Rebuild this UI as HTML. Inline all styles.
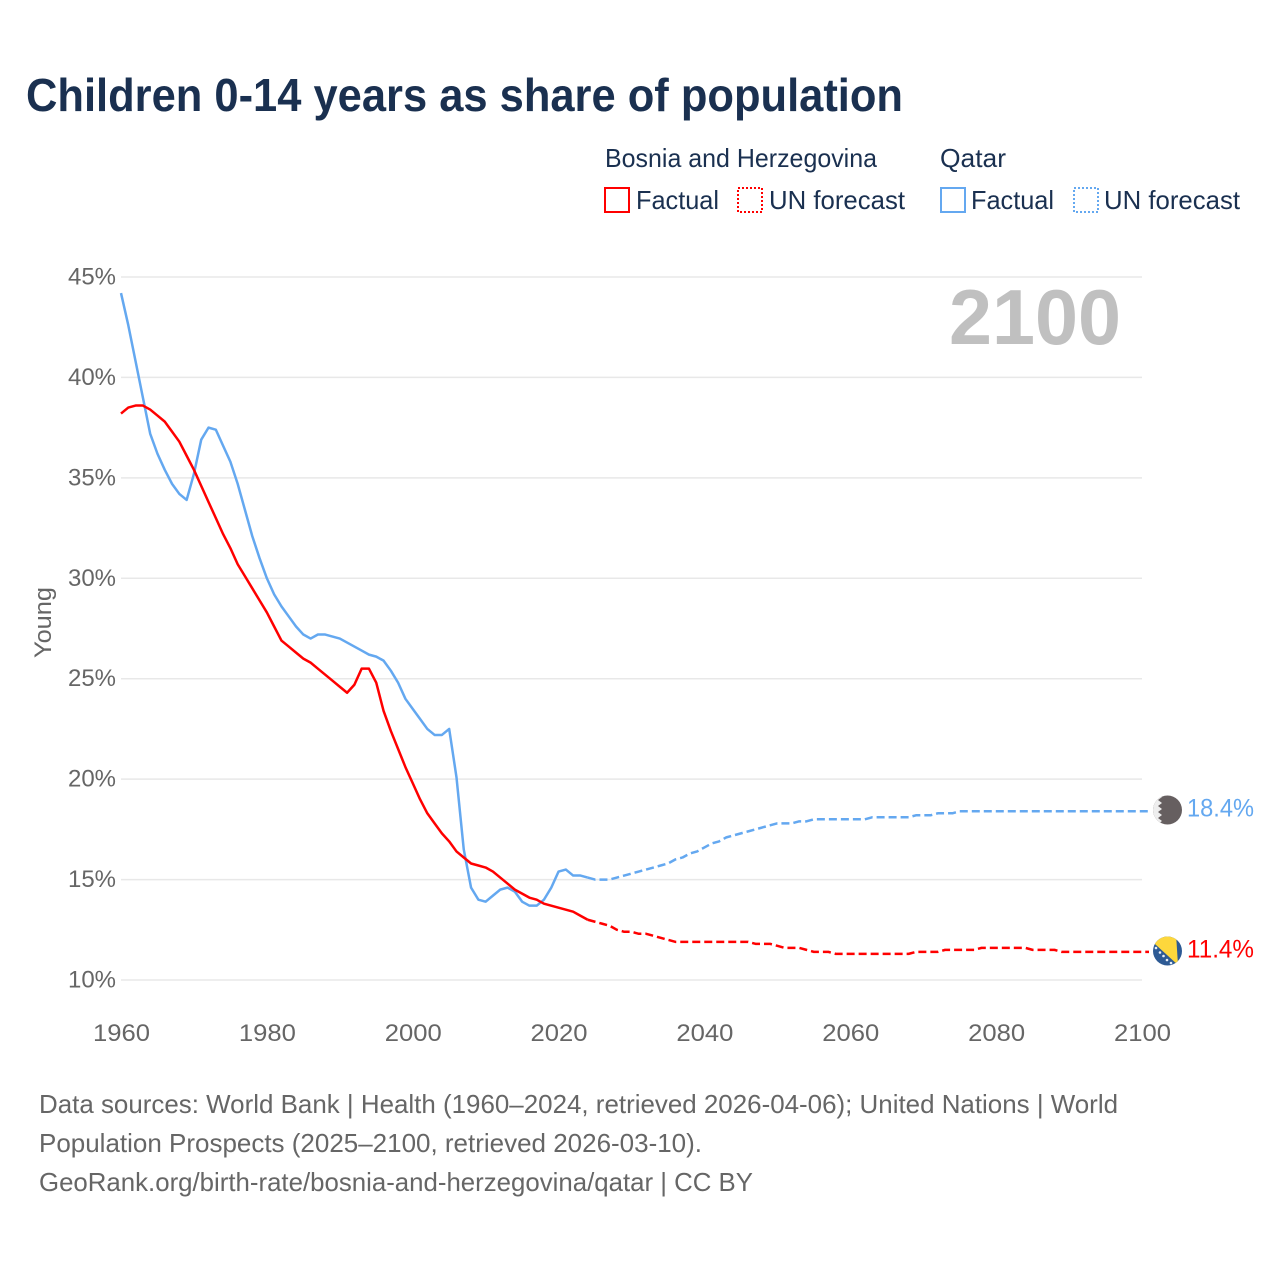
<!DOCTYPE html>
<html lang="en">
<head>
<meta charset="utf-8">
<title>Children 0-14 years as share of population</title>
<style>
html,body{margin:0;padding:0;background:#fff;}
svg{display:block;font-family:"Liberation Sans",sans-serif;}
</style>
</head>
<body>
<svg id="chart" xmlns="http://www.w3.org/2000/svg" width="1280" height="1280" viewBox="0 0 1280 1280">
  <rect x="0" y="0" width="1280" height="1280" fill="#ffffff"/>
  <text x="26" y="111" font-size="46" font-weight="700" fill="#1a3050" textLength="877" lengthAdjust="spacingAndGlyphs">Children 0-14 years as share of population</text>

  <g font-size="26" fill="#1a3050">
    <text x="605" y="167" textLength="272" lengthAdjust="spacingAndGlyphs">Bosnia and Herzegovina</text>
    <text x="940" y="167" textLength="66" lengthAdjust="spacingAndGlyphs">Qatar</text>
    <rect x="605" y="188" width="24" height="24" fill="none" stroke="#ff0000" stroke-width="2"/>
    <text x="636" y="209" textLength="83" lengthAdjust="spacingAndGlyphs">Factual</text>
    <rect x="738" y="188" width="24" height="24" fill="none" stroke="#ff0000" stroke-width="2" stroke-dasharray="2 2"/>
    <text x="769" y="209" textLength="136" lengthAdjust="spacingAndGlyphs">UN forecast</text>
    <rect x="941" y="188" width="24" height="24" fill="none" stroke="#64a8f0" stroke-width="2"/>
    <text x="971" y="209" textLength="83" lengthAdjust="spacingAndGlyphs">Factual</text>
    <rect x="1074" y="188" width="24" height="24" fill="none" stroke="#64a8f0" stroke-width="2" stroke-dasharray="2 2"/>
    <text x="1104" y="209" textLength="136" lengthAdjust="spacingAndGlyphs">UN forecast</text>
  </g>

  <g id="grid"></g>
  <g id="yticks"></g>
  <g id="xticks"></g>

  <text x="949" y="344" font-size="78" font-weight="700" fill="#c0c0c0" textLength="172" lengthAdjust="spacingAndGlyphs">2100</text>
  <text transform="translate(51,658) rotate(-90)" font-size="24" fill="#666666" textLength="71" lengthAdjust="spacingAndGlyphs">Young</text>

  <g id="series"></g>

  <defs>
    <clipPath id="flagClipQ"><circle cx="1167.5" cy="810" r="14.5"/></clipPath>
    <clipPath id="flagClipB"><circle cx="1167.5" cy="951" r="14.5"/></clipPath>
  </defs>
  <g id="flag-qatar" clip-path="url(#flagClipQ)">
    <rect x="1150" y="793" width="36" height="34" fill="#665f60"/>
    <polygon fill="#eeeeee" points="1150,793 1158,795.5 1162,797 1158,800 1162,803 1158,806 1162,809 1158,812 1162,815 1158,818 1162,821 1158,824 1150,827"/>
  </g>
  <g id="flag-bosnia" clip-path="url(#flagClipB)">
    <rect x="1150" y="934" width="36" height="34" fill="#2d5a94"/>
    <polygon fill="#fdd73c" points="1150,939.5 1178,965 1176,934 1150,934"/>
    <g fill="#e8eef6">
      <circle cx="1156" cy="948" r="1.3"/><circle cx="1160" cy="952.5" r="1.3"/><circle cx="1163.5" cy="956" r="1.3"/><circle cx="1167" cy="960" r="1.3"/><circle cx="1171" cy="963" r="1.3"/>
    </g>
  </g>
  <text id="value-qatar" x="1187" y="816.5" font-size="25" fill="#64a8f0" textLength="67" lengthAdjust="spacingAndGlyphs">18.4%</text>
  <text id="value-bosnia" x="1187" y="957.5" font-size="25" fill="#ff0000" textLength="67" lengthAdjust="spacingAndGlyphs">11.4%</text>

  <g font-size="26" fill="#666666">
    <text x="39" y="1113" textLength="1079" lengthAdjust="spacingAndGlyphs">Data sources: World Bank | Health (1960–2024, retrieved 2026-04-06); United Nations | World</text>
    <text x="39" y="1152" textLength="663" lengthAdjust="spacingAndGlyphs">Population Prospects (2025–2100, retrieved 2026-03-10).</text>
    <text x="39" y="1191" textLength="714" lengthAdjust="spacingAndGlyphs">GeoRank.org/birth-rate/bosnia-and-herzegovina/qatar | CC BY</text>
  </g>
</svg>

<script>
const startYear = 1960;
const lastFactualYear = 2024;
const yTickValues = [10, 15, 20, 25, 30, 35, 40, 45];
const xTickYears = [1960, 1980, 2000, 2020, 2040, 2060, 2080, 2100];

const bosniaValues = [
38.2,38.5,38.6,38.6,38.4,38.1,37.8,37.3,36.8,36.1,
35.4,34.6,33.8,33.0,32.2,31.5,30.7,30.1,29.5,28.9,
28.3,27.6,26.9,26.6,26.3,26.0,25.8,25.5,25.2,24.9,
24.6,24.3,24.7,25.5,25.5,24.8,23.4,22.4,21.5,20.6,
19.8,19.0,18.3,17.8,17.3,16.9,16.4,16.1,15.8,15.7,
15.6,15.4,15.1,14.8,14.5,14.3,14.1,14.0,13.8,13.7,
13.6,13.5,13.4,13.2,13.0,12.9,12.8,12.7,12.5,12.4,
12.4,12.3,12.3,12.2,12.1,12.0,11.9,11.9,11.9,11.9,
11.9,11.9,11.9,11.9,11.9,11.9,11.9,11.8,11.8,11.8,
11.7,11.6,11.6,11.6,11.5,11.4,11.4,11.4,11.3,11.3,
11.3,11.3,11.3,11.3,11.3,11.3,11.3,11.3,11.3,11.4,
11.4,11.4,11.4,11.5,11.5,11.5,11.5,11.5,11.6,11.6,
11.6,11.6,11.6,11.6,11.6,11.5,11.5,11.5,11.5,11.4,
11.4,11.4,11.4,11.4,11.4,11.4,11.4,11.4,11.4,11.4,11.4];

const qatarValues = [
44.2,42.6,40.8,39.0,37.2,36.2,35.4,34.7,34.2,33.9,
35.2,36.9,37.5,37.4,36.6,35.8,34.7,33.4,32.1,31.0,
30.0,29.2,28.6,28.1,27.6,27.2,27.0,27.2,27.2,27.1,
27.0,26.8,26.6,26.4,26.2,26.1,25.9,25.4,24.8,24.0,
23.5,23.0,22.5,22.2,22.2,22.5,20.1,16.5,14.6,14.0,
13.9,14.2,14.5,14.6,14.4,13.9,13.7,13.7,14.0,14.6,
15.4,15.5,15.2,15.2,15.1,15.0,15.0,15.0,15.1,15.2,
15.3,15.4,15.5,15.6,15.7,15.8,16.0,16.1,16.3,16.4,
16.6,16.8,16.9,17.1,17.2,17.3,17.4,17.5,17.6,17.7,
17.8,17.8,17.8,17.9,17.9,18.0,18.0,18.0,18.0,18.0,
18.0,18.0,18.0,18.1,18.1,18.1,18.1,18.1,18.1,18.2,
18.2,18.2,18.3,18.3,18.3,18.4,18.4,18.4,18.4,18.4,
18.4,18.4,18.4,18.4,18.4,18.4,18.4,18.4,18.4,18.4,
18.4,18.4,18.4,18.4,18.4,18.4,18.4,18.4,18.4,18.4,18.4];

const SVG_NS = "http://www.w3.org/2000/svg";
const plotLeft = 121, plotRight = 1142, plotTop = 277, plotBottom = 980;
const xMin = 1960, xMax = 2100, yMin = 10, yMax = 45;
function xScale(year) { return plotLeft + (year - xMin) / (xMax - xMin) * (plotRight - plotLeft); }
function yScale(value) { return plotBottom - (value - yMin) / (yMax - yMin) * (plotBottom - plotTop); }

const gridGroup = document.getElementById("grid");
const yTickGroup = document.getElementById("yticks");
const xTickGroup = document.getElementById("xticks");
const seriesGroup = document.getElementById("series");

yTickValues.forEach(function (v) {
  const line = document.createElementNS(SVG_NS, "line");
  
  
  line.setAttribute("x1", plotLeft);
  line.setAttribute("x2", plotRight);
  line.setAttribute("y1", yScale(v));
  line.setAttribute("y2", yScale(v));
  line.setAttribute("stroke", "#e8e8e8");
  line.setAttribute("stroke-width", "1.5");
  gridGroup.appendChild(line);

  const label = document.createElementNS(SVG_NS, "text");
  
  
  label.setAttribute("x", 68);
  label.setAttribute("y", yScale(v) + 7.5);
  label.setAttribute("font-size", "24");
  label.setAttribute("fill", "#666666");
  label.setAttribute("textLength", "48");
  label.setAttribute("lengthAdjust", "spacingAndGlyphs");
  label.textContent = v + "%";
  yTickGroup.appendChild(label);
});

xTickYears.forEach(function (year) {
  const label = document.createElementNS(SVG_NS, "text");
  
  
  label.setAttribute("x", xScale(year) - 28);
  label.setAttribute("y", 1041);
  label.setAttribute("font-size", "24");
  label.setAttribute("fill", "#666666");
  label.setAttribute("textLength", "57");
  label.setAttribute("lengthAdjust", "spacingAndGlyphs");
  label.textContent = String(year);
  xTickGroup.appendChild(label);
});

function pathFor(values, fromYear, toYear, extend) {
  let d = "";
  for (let year = fromYear; year <= toYear; year++) {
    const value = values[year - startYear];
    d += (d ? "L" : "M") + xScale(year).toFixed(2) + " " + yScale(value).toFixed(2);
  }
  if (extend) {
    d += "L" + (xScale(toYear) + extend).toFixed(2) + " " + yScale(values[toYear - startYear]).toFixed(2);
  }
  return d;
}

function addLine(d, color, dashed, name) {
  const p = document.createElementNS(SVG_NS, "path");
  
  
  p.setAttribute("d", d);
  p.setAttribute("fill", "none");
  p.setAttribute("stroke", color);
  p.setAttribute("stroke-width", "2.5");
  p.setAttribute("stroke-linejoin", "round");
  if (dashed) p.setAttribute("stroke-dasharray", "8 4");
  seriesGroup.appendChild(p);
}

const lastYear = startYear + bosniaValues.length - 1;
addLine(pathFor(qatarValues, startYear, lastFactualYear, 0), "#64a8f0", false, "qatar-factual-line");
addLine(pathFor(qatarValues, lastFactualYear, lastYear, 7), "#64a8f0", true, "qatar-forecast-line");
addLine(pathFor(bosniaValues, startYear, lastFactualYear, 0), "#ff0000", false, "bosnia-factual-line");
addLine(pathFor(bosniaValues, lastFactualYear, lastYear, 7), "#ff0000", true, "bosnia-forecast-line");
</script>
</body>
</html>
